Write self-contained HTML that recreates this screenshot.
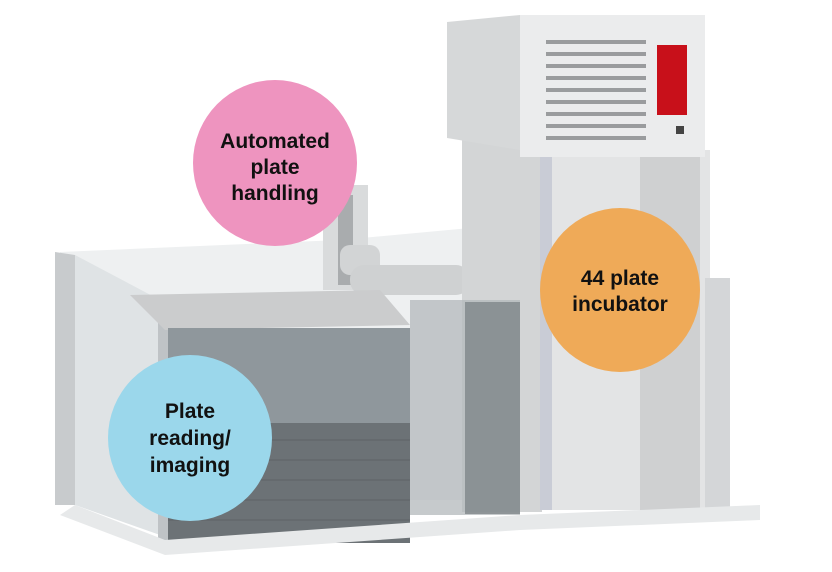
<!DOCTYPE html>
<html><head><meta charset="utf-8"><style>
html,body{margin:0;padding:0;background:#fff;width:832px;height:572px;overflow:hidden}
svg{display:block}
text{font-family:"Liberation Sans",sans-serif;font-weight:bold;fill:#111;text-anchor:middle}
</style></head><body>
<svg width="832" height="572" viewBox="0 0 832 572">
<!-- back glass -->
<polygon points="60,252 340,240 470,228 470,500 60,500" fill="#eef0f1"/>
<!-- robot arm column -->
<rect x="323" y="185" width="45" height="105" fill="#d9dbdc"/>
<rect x="338" y="195" width="15" height="90" fill="#a9acae"/>
<rect x="340" y="245" width="40" height="30" rx="10" fill="#d2d4d5"/>
<rect x="350" y="265" width="120" height="30" rx="14" fill="#cfd1d2"/>
<!-- incubator lower tower -->
<rect x="462" y="140" width="80" height="372" fill="#d3d5d6"/>
<rect x="540" y="150" width="170" height="360" fill="#e3e4e5"/>
<rect x="540" y="150" width="12" height="360" fill="#c9ccd6"/>
<rect x="640" y="150" width="60" height="360" fill="#cfd0d1"/>
<!-- incubator top box -->
<polygon points="447,22 520,15 520,150 447,138" fill="#d6d8d9"/>
<rect x="520" y="15" width="185" height="142" fill="#ebeced"/>
<g fill="#9a9c9e">
<rect x="546" y="40" width="100" height="4"/><rect x="546" y="52" width="100" height="4"/>
<rect x="546" y="64" width="100" height="4"/><rect x="546" y="76" width="100" height="4"/>
<rect x="546" y="88" width="100" height="4"/><rect x="546" y="100" width="100" height="4"/>
<rect x="546" y="112" width="100" height="4"/><rect x="546" y="124" width="100" height="4"/>
<rect x="546" y="136" width="100" height="4"/>
</g>
<rect x="657" y="45" width="30" height="70" fill="#c8101a"/>
<rect x="676" y="126" width="8" height="8" fill="#444"/>
<!-- right glass panel -->
<rect x="705" y="278" width="25" height="230" fill="#d4d6d8"/>
<!-- left glass side panel -->
<polygon points="55,252 75,255 75,505 55,505" fill="#c8cbcd"/>
<polygon points="75,255 160,300 160,535 75,505" fill="#dfe3e5"/>
<rect x="158" y="300" width="10" height="245" fill="#bfc3c6"/>
<!-- plate reader -->
<polygon points="130,295 380,290 410,325 165,330" fill="#cbcccd"/>
<rect x="168" y="328" width="242" height="95" fill="#8f979c"/>
<rect x="168" y="423" width="242" height="120" fill="#6c7276"/>
<g stroke="#5e6367" stroke-width="1">
<line x1="168" y1="440" x2="410" y2="440"/><line x1="168" y1="460" x2="410" y2="460"/>
<line x1="168" y1="480" x2="410" y2="480"/><line x1="168" y1="500" x2="410" y2="500"/>
<line x1="168" y1="520" x2="410" y2="520"/>
</g>
<!-- front glass partition -->
<rect x="410" y="300" width="110" height="215" fill="#b3b8bb" opacity="0.75"/>
<rect x="465" y="302" width="55" height="212" fill="#80868a" opacity="0.8"/>
<!-- base -->
<polygon points="75,505 165,540 520,515 760,505 760,520 520,530 165,555 60,515" fill="#e7e9ea"/>
<!-- circles -->
<ellipse cx="275" cy="163" rx="82" ry="83" fill="#ee94bf"/>
<text x="275" y="148" font-size="21">Automated</text>
<text x="275" y="174" font-size="21">plate</text>
<text x="275" y="200" font-size="21">handling</text>
<ellipse cx="620" cy="290" rx="80" ry="82" fill="#efaa58"/>
<text x="620" y="285" font-size="21">44 plate</text>
<text x="620" y="311" font-size="21">incubator</text>
<ellipse cx="190" cy="438" rx="82" ry="83" fill="#9bd7eb"/>
<text x="190" y="418" font-size="21">Plate</text>
<text x="190" y="445" font-size="21">reading/</text>
<text x="190" y="472" font-size="21">imaging</text>
</svg>
</body></html>
